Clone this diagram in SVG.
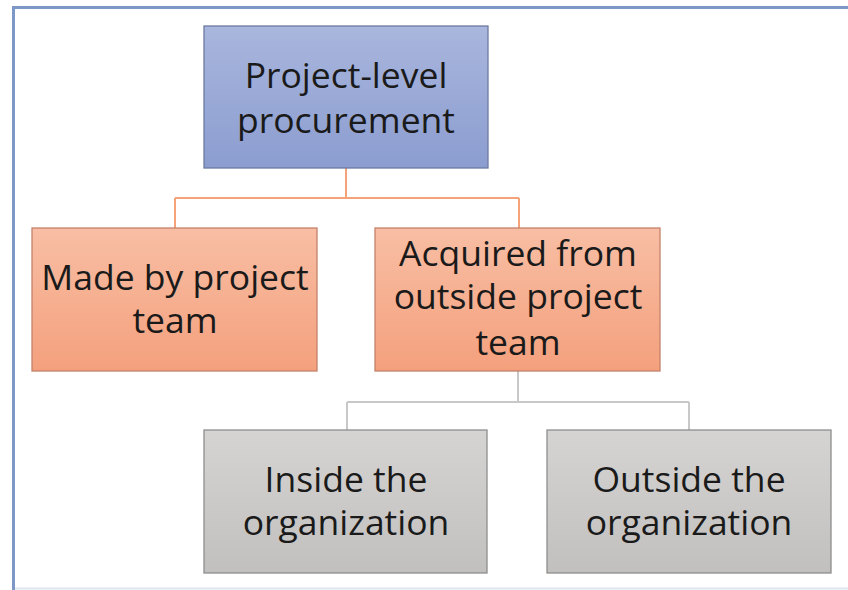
<svg xmlns="http://www.w3.org/2000/svg" width="848" height="590" viewBox="0 0 848 590">
<defs>
<linearGradient id="gBlue" x1="0" y1="0" x2="0" y2="1"><stop offset="0" stop-color="#a9b6dd"/><stop offset="1" stop-color="#8b9dd0"/></linearGradient>
<linearGradient id="gOrange" x1="0" y1="0" x2="0" y2="1"><stop offset="0" stop-color="#f8bea4"/><stop offset="1" stop-color="#f4a07d"/></linearGradient>
<linearGradient id="gGrey" x1="0" y1="0" x2="0" y2="1"><stop offset="0" stop-color="#d6d4d3"/><stop offset="1" stop-color="#c2c0be"/></linearGradient>
<style>
.lbl{font-family:"Open Sans","Liberation Sans",sans-serif;font-size:35.5px;fill:#1a1a1a;text-anchor:middle}
.box{stroke-width:1.3}
</style>
</defs>
<rect x="0" y="0" width="848" height="590" fill="#ffffff"/>
<path d="M13.5 590 V7.5 H848" fill="none" stroke="#7d98c6" stroke-width="3"/>
<line x1="15" y1="588.5" x2="848" y2="588.5" stroke="#dde6f0" stroke-width="2"/>
<g id="connectors" fill="none" stroke-width="2">
<path d="M346 168 V198 M175 198 H519 M175 198 V228 M519 198 V228" stroke="#f4a378"/>
<path d="M518 371 V402 M347 402 H689 M347 402 V430 M689 402 V430" stroke="#c8c8c8"/>
</g>
<g id="node-root">
<rect class="box" x="204" y="26" width="284" height="142" fill="url(#gBlue)" stroke="#6d7aa0"/>
<text class="lbl" x="346" y="88">Project-level</text>
<text class="lbl" x="346" y="133">procurement</text>
</g>
<g id="node-made">
<rect class="box" x="32" y="228" width="285" height="143" fill="url(#gOrange)" stroke="#c4826a"/>
<text class="lbl" x="175" y="290">Made by project</text>
<text class="lbl" x="175" y="333">team</text>
</g>
<g id="node-acquired">
<rect class="box" x="375" y="228" width="285" height="143" fill="url(#gOrange)" stroke="#c4826a"/>
<text class="lbl" x="518" y="266">Acquired from</text>
<text class="lbl" x="518" y="309">outside project</text>
<text class="lbl" x="518" y="355">team</text>
</g>
<g id="node-inside">
<rect class="box" x="204" y="430" width="283" height="143" fill="url(#gGrey)" stroke="#8e8e8e"/>
<text class="lbl" x="346" y="492">Inside the</text>
<text class="lbl" x="346" y="535">organization</text>
</g>
<g id="node-outside">
<rect class="box" x="547" y="430" width="284" height="143" fill="url(#gGrey)" stroke="#8e8e8e"/>
<text class="lbl" x="689" y="492">Outside the</text>
<text class="lbl" x="689" y="535">organization</text>
</g>
</svg>
